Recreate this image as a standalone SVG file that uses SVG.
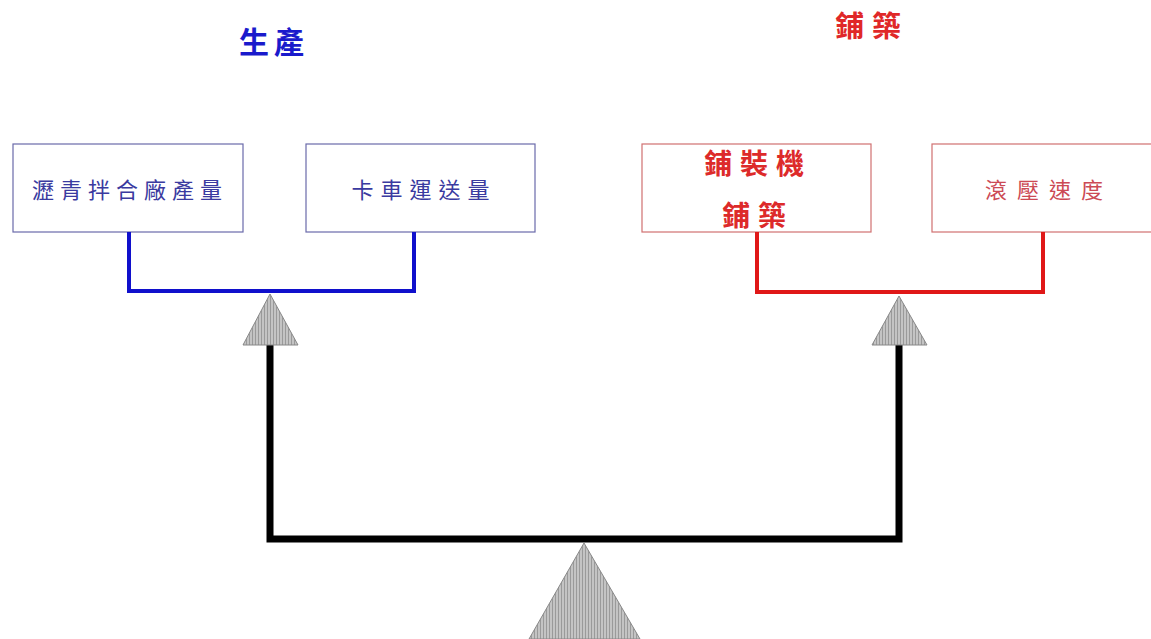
<svg xmlns="http://www.w3.org/2000/svg" width="1151" height="639" viewBox="0 0 1151 639">
<defs>
<pattern id="hatch" width="3" height="4" patternUnits="userSpaceOnUse">
<rect width="3" height="4" fill="#c4c4c4"/>
<rect width="1" height="4" fill="#9a9a9a"/>
</pattern>
<style>
.t{font-family:"Noto Sans CJK TC","Noto Sans CJK SC",sans-serif;text-anchor:middle}
.bb{fill:#fff;stroke:#6a6aaa;stroke-width:1.2}
.rb{fill:#fff;stroke:#d07070;stroke-width:1.2}
.tri{fill:url(#hatch);stroke:#888;stroke-width:1}
</style>
</defs>
<rect width="1151" height="639" fill="#fff"/>
<g id="title-production"><text class="t" x="274" y="53" font-size="30" font-weight="bold" fill="#1a1acc" letter-spacing="5">生產</text></g>
<g id="title-paving"><text class="t" x="872" y="37" font-size="29" font-weight="bold" fill="#e02828" letter-spacing="8">鋪築</text></g>
<g id="node-plant"><rect class="bb" x="13" y="144" width="230" height="88"/><text class="t" x="130" y="198" font-size="22" fill="#3a3aa0" letter-spacing="6">瀝青拌合廠產量</text></g>
<g id="node-truck"><rect class="bb" x="306" y="144" width="229" height="88"/><text class="t" x="424" y="198" font-size="22" fill="#3a3aa0" letter-spacing="7">卡車運送量</text></g>
<g id="node-paver"><rect class="rb" x="642" y="144" width="229" height="88"/><text class="t" x="758" y="174" font-size="28" font-weight="bold" fill="#dd2a2a" letter-spacing="8">鋪裝機</text><text class="t" x="758" y="226" font-size="28" font-weight="bold" fill="#dd2a2a" letter-spacing="8">鋪築</text></g>
<g id="node-roller"><rect class="rb" x="932" y="144" width="225" height="88"/><text class="t" x="1049" y="198" font-size="22" fill="#cc4a55" letter-spacing="10">滾壓速度</text></g>
<g id="connectors" fill="none">
<polyline points="129,232 129,291 414,291 414,232" stroke="#1010cc" stroke-width="4"/>
<polyline points="757,232 757,292 1043,292 1043,232" stroke="#e01818" stroke-width="4"/>
<polyline points="270,345 270,539 899,539 899,345" stroke="#000" stroke-width="7"/>
</g>
<g id="fulcrum-left"><polygon class="tri" points="270,294 298,345 243,345"/></g>
<g id="fulcrum-right"><polygon class="tri" points="899,296 927,345 872,345"/></g>
<g id="fulcrum-main"><polygon class="tri" points="584,543 640,639 529,639"/></g>
</svg>
